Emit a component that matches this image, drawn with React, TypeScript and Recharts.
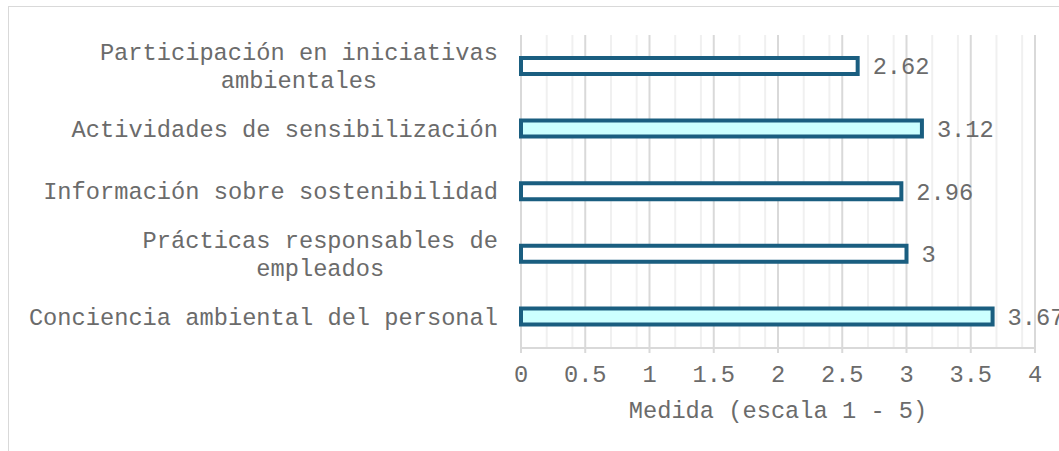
import { Bar, BarChart, CartesianGrid, Cell, LabelList, XAxis, YAxis } from "recharts";

const categories = [
  "Participación en iniciativas\nambientales",
  "Actividades de sensibilización",
  "Información sobre sostenibilidad",
  "Prácticas responsables de\nempleados",
  "Conciencia ambiental del personal",
];
const values = [2.62, 3.12, 2.96, 3, 3.67];
const barFills = ["#ffffff", "#ccffff", "#ffffff", "#ffffff", "#ccffff"];
const xTicks = [0, 0.5, 1, 1.5, 2, 2.5, 3, 3.5, 4];
const minorTicks = [
  0.1, 0.2, 0.3, 0.4, 0.6, 0.7, 0.8, 0.9, 1.1, 1.2, 1.3, 1.4, 1.6, 1.7, 1.8, 1.9,
  2.1, 2.2, 2.3, 2.4, 2.6, 2.7, 2.8, 2.9, 3.1, 3.2, 3.3, 3.4, 3.6, 3.7, 3.8, 3.9,
];

const data = categories.map((name, i) => ({ name, value: values[i] }));

const FONT = '"Liberation Mono", "Courier New", monospace';
const FS = 23.7;
const TEXT = "#6b6b6b";
const BORDER = "#d9d9d9";
const DARK = "#1a5e80";

// multi-line labels: lines centred on each other, block right-aligned
function CategoryTick({ x, y, payload }: any) {
  const lines: string[] = String(payload.value).split("\n");
  const right = x - 15;
  const maxLen = Math.max(...lines.map((l) => l.length));
  const blockW = maxLen * FS * 0.6;
  const lineH = 28;
  const top = y - ((lines.length - 1) * lineH) / 2;
  return (
    <g>
      {lines.map((l, i) => (
        <text
          key={i}
          x={lines.length > 1 ? right - blockW / 2 : right}
          y={top + i * lineH}
          dy="0.33em"
          textAnchor={lines.length > 1 ? "middle" : "end"}
          fill={TEXT}
          fontFamily={FONT}
          fontSize={FS}
        >
          {l}
        </text>
      ))}
    </g>
  );
}

export default function App() {
  return (
    <div style={{ position: "fixed", left: 8, top: 6, width: 1051, height: 445, overflow: "hidden", background: "#fff" }}>
      <div
        style={{
          position: "absolute",
          left: -1,
          top: -1,
          width: 2000,
          height: 2000,
          border: `2px solid ${BORDER}`,
        }}
      />
      <div style={{ position: "absolute", left: 0, top: 0 }}>
        <BarChart
          width={1051}
          height={445}
          data={data}
          layout="vertical"
          margin={{ top: 29, right: 24, left: 0, bottom: 23 }}
          barCategoryGap={0}
        >
          <CartesianGrid horizontal={false} verticalValues={minorTicks} stroke="#f0f0f0" strokeWidth={2} />
          <CartesianGrid horizontal={false} verticalValues={xTicks} stroke={BORDER} strokeWidth={2} />
          <XAxis
            type="number"
            domain={[0, 4]}
            ticks={xTicks}
            height={80}
            axisLine={{ stroke: BORDER, strokeWidth: 2 }}
            tickLine={{ stroke: BORDER, strokeWidth: 2 }}
            tickSize={5}
            tickMargin={12}
            tick={{ fill: TEXT, fontFamily: FONT, fontSize: FS }}
            label={{
              value: "Medida (escala 1 - 5)",
              position: "insideBottom",
              offset: 10,
              fill: TEXT,
              fontFamily: FONT,
              fontSize: FS,
            }}
          />
          <YAxis
            type="category"
            dataKey="name"
            width={513}
            axisLine={false}
            tickLine={false}
            interval={0}
            tick={<CategoryTick />}
          />
          <Bar dataKey="value" barSize={16} stroke={DARK} strokeWidth={4} isAnimationActive={false}>
            {data.map((d, i) => (
              <Cell key={d.name} fill={barFills[i]} />
            ))}
            <LabelList
              dataKey="value"
              position="right"
              offset={15}
              fill={TEXT}
              fontFamily={FONT}
              fontSize={FS}
            />
          </Bar>
        </BarChart>
      </div>
    </div>
  );
}
